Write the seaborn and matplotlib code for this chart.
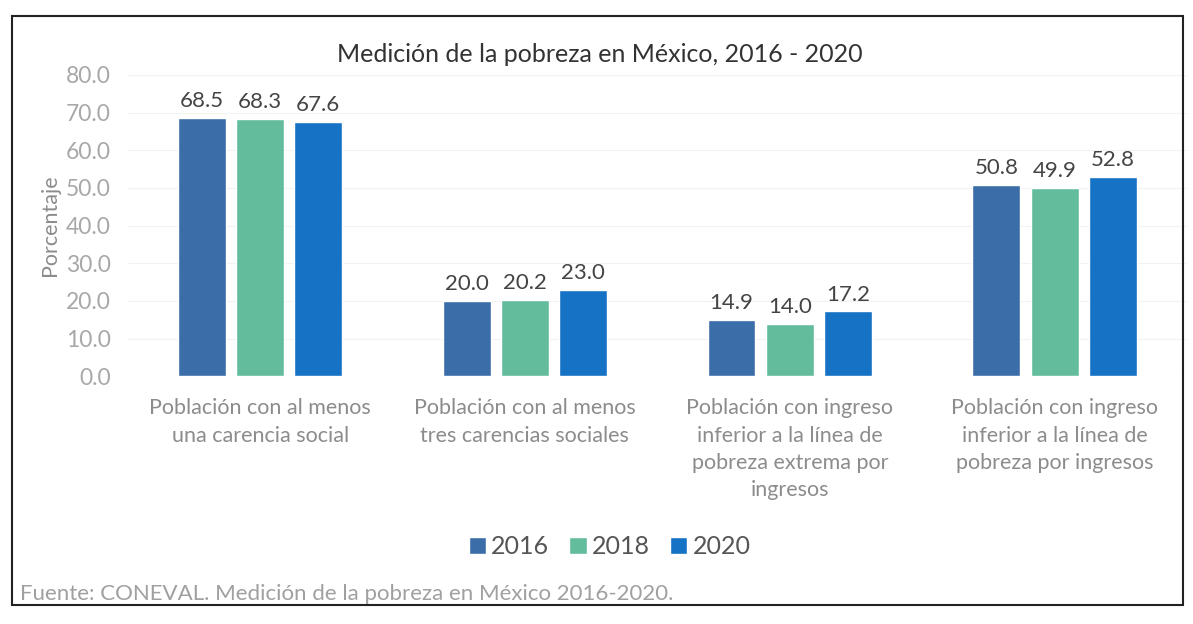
import matplotlib
matplotlib.use("Agg")
import matplotlib.pyplot as plt
import seaborn as sns
import pandas as pd
from matplotlib.patches import Rectangle

# Data
categorias = [
    "Población con al menos\nuna carencia social",
    "Población con al menos\ntres carencias sociales",
    "Población con ingreso\ninferior a la línea de\npobreza extrema por\ningresos",
    "Población con ingreso\ninferior a la línea de\npobreza por ingresos",
]
anios = ["2016", "2018", "2020"]
valores_2016 = [68.5, 20.0, 14.9, 50.8]
valores_2018 = [68.3, 20.2, 14.0, 49.9]
valores_2020 = [67.6, 23.0, 17.2, 52.8]
colores = ["#3b6ea8", "#63bd9c", "#1672c4"]

df = pd.DataFrame({
    "categoria": categorias * 3,
    "anio": [a for a in anios for _ in categorias],
    "valor": valores_2016 + valores_2018 + valores_2020,
})

sns.set_style("white")
plt.rcParams["font.family"] = ["Lato", "DejaVu Sans"]

fig = plt.figure(figsize=(11.93, 6.24), dpi=100)
ax = fig.add_axes([0.107, 0.397, 0.888, 0.483])

sns.barplot(data=df, x="categoria", y="valor", hue="anio", palette=colores,
            width=0.66, gap=0.18, ax=ax, saturation=1)

for cont in ax.containers:
    ax.bar_label(cont, fmt="%.1f", padding=5, fontsize=16, color="#444444")

ax.set_ylim(0, 80)
ax.set_xlim(-0.5, 3.5)
ax.set_yticks(range(0, 81, 10))
ax.set_yticklabels([f"{v:.1f}" for v in range(0, 81, 10)], fontsize=16.5, color="#a8a8a8")
ax.yaxis.grid(True, color="#f2f2f2", linewidth=0.8)
ax.set_axisbelow(True)
ax.tick_params(axis="x", length=0, pad=16, labelsize=15.5, labelcolor="#8c8c8c")
ax.tick_params(axis="y", length=0, pad=12)
for lbl in ax.get_xticklabels():
    lbl.set_linespacing(1.45)
ax.set_xlabel("")
ax.set_ylabel("Porcentaje", fontsize=15.5, color="#8c8c8c", labelpad=4)
sns.despine(ax=ax, left=True, bottom=True)

ax.legend(loc="center", bbox_to_anchor=(0.455, -0.565), ncol=3, frameon=False,
          fontsize=18, handlelength=0.7, handleheight=0.7, handletextpad=0.2,
          columnspacing=0.8, labelcolor="#555555")

fig.text(0.503, 0.9, "Medición de la pobreza en México, 2016 - 2020", ha="center",
         fontsize=18, color="#333333")
fig.text(0.017, 0.038, "Fuente: CONEVAL. Medición de la pobreza en México 2016-2020.",
         fontsize=16, color="#a0a0a0")

fig.add_artist(Rectangle((0.01, 0.03), 0.982, 0.945, transform=fig.transFigure,
                         fill=False, edgecolor="#222222", linewidth=1.5))

fig.savefig("out.png", dpi=100)
